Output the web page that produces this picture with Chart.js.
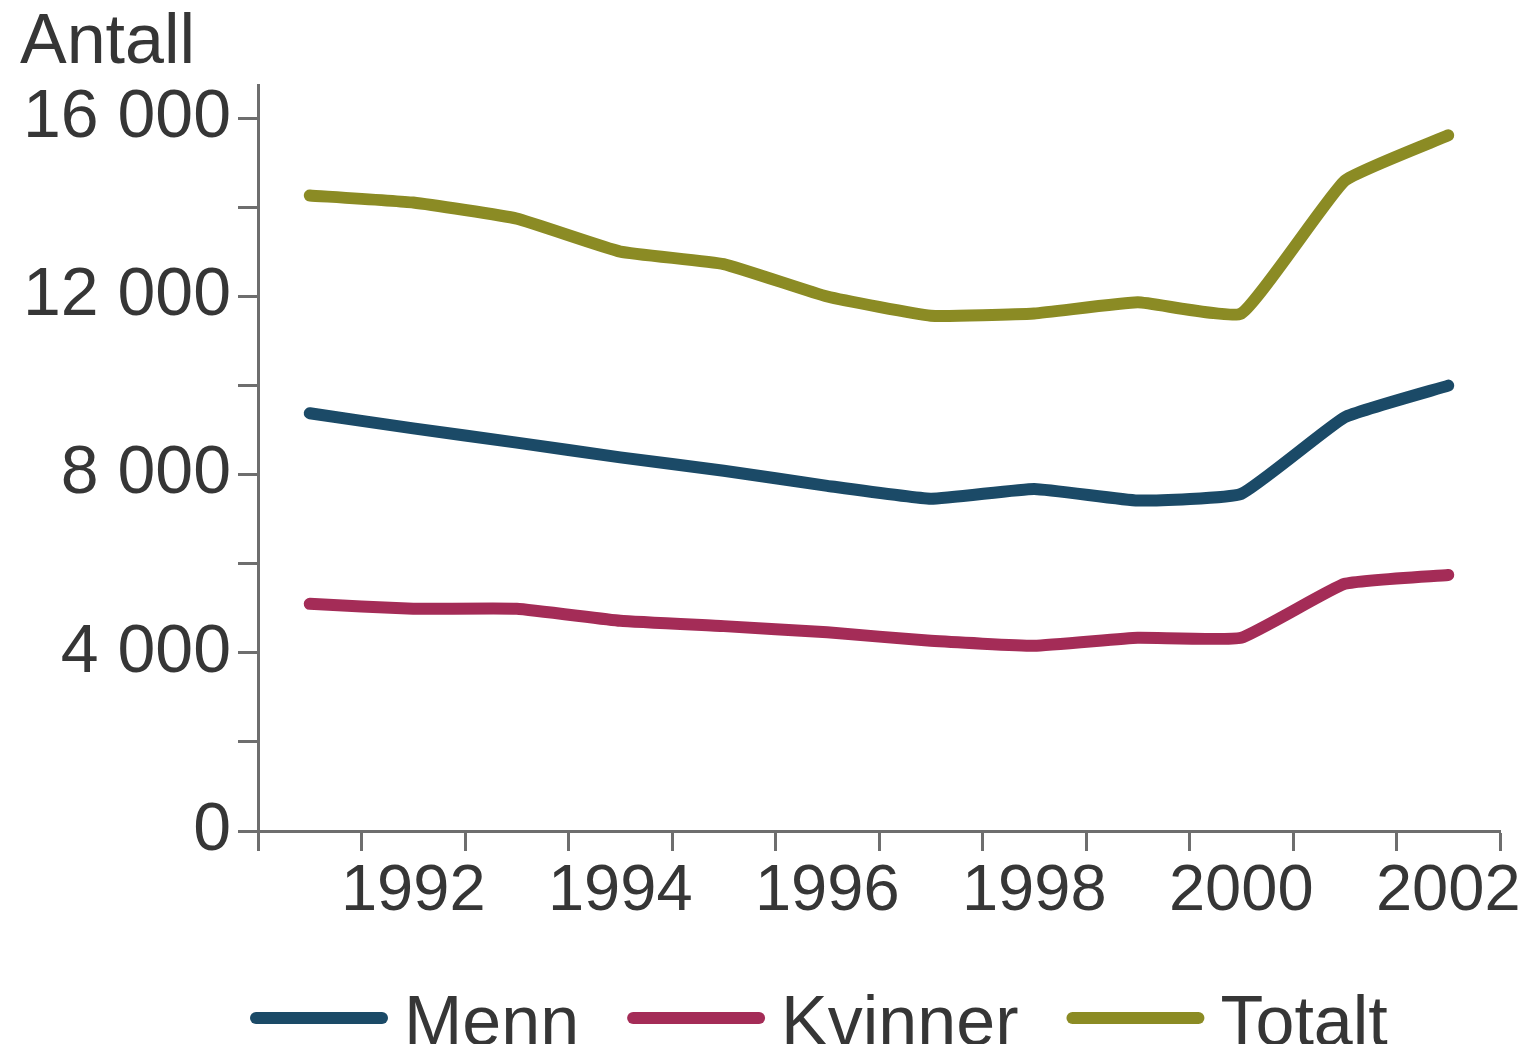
<!DOCTYPE html>
<html lang="no">
<head>
<meta charset="utf-8">
<title>Antall</title>
<script src="https://cdn.jsdelivr.net/npm/chart.js@4.4.1/dist/chart.umd.min.js"></script>
<style>
  html, body { margin: 0; padding: 0; background: #ffffff; overflow: hidden; }
  #wrap { position: relative; width: 1520px; height: 1044px; }
</style>
</head>
<body>
<div id="wrap"><canvas id="chart"></canvas></div>
<script>
// Years on the horizontal axis
const years = ['1991', '1992', '1993', '1994', '1995', '1996', '1997', '1998', '1999', '2000', '2001', '2002'];

// Counts per year
const menn    = [9380, 9040, 8720, 8390, 8090, 7750, 7460, 7680, 7420, 7570, 9290, 10000];
const kvinner = [5100, 4990, 4990, 4720, 4600, 4460, 4270, 4160, 4340, 4340, 5550, 5750];
const totalt  = [14270, 14110, 13750, 13010, 12730, 12000, 11570, 11620, 11870, 11620, 14600, 15620];

// Tick marks on the value axis; only every other one carries a label
const yTicks = [0, 2000, 4000, 6000, 8000, 10000, 12000, 14000, 16000];
const yLabelStep = 4000;

const seriesNames = ['Menn', 'Kvinner', 'Totalt'];
const seriesColors = ['#1b4a67', '#a42c57', '#8b8b24'];

const FONT = "'Liberation Sans', Arial, Helvetica, sans-serif";
const TEXT = '#363636';
const AXIS = '#6e6e6e';

function formatThousands(v) {
  return String(v).replace(/\B(?=(\d{3})+(?!\d))/g, ' ');
}

// Legend row drawn under the axis: a thick stroke followed by the series name
const legendRow = {
  id: 'legendRow',
  afterDraw(chart) {
    const ctx = chart.ctx;
    const y = 1018;
    const strokeLen = 126;
    const gapText = 22;
    const gapItem = 54;
    let x = 256;
    ctx.save();
    ctx.font = '70px ' + FONT;
    ctx.textBaseline = 'alphabetic';
    ctx.textAlign = 'left';
    chart.data.datasets.forEach((ds) => {
      ctx.strokeStyle = ds.borderColor;
      ctx.lineWidth = 12;
      ctx.lineCap = 'round';
      ctx.beginPath();
      ctx.moveTo(x, y);
      ctx.lineTo(x + strokeLen, y);
      ctx.stroke();
      ctx.fillStyle = TEXT;
      const tx = x + strokeLen + gapText;
      ctx.fillText(ds.label, tx, 1045);
      x = tx + ctx.measureText(ds.label).width + gapItem;
    });
    ctx.restore();
  }
};

const datasetFor = (i, data) => ({
  label: seriesNames[i],
  data: data,
  borderColor: seriesColors[i],
  backgroundColor: seriesColors[i],
  borderWidth: 12,
  borderCapStyle: 'round',
  borderJoinStyle: 'round',
  pointRadius: 0,
  pointHoverRadius: 0,
  tension: 0.12,
  fill: false
});

new Chart(document.getElementById('chart'), {
  type: 'line',
  data: {
    labels: years,
    datasets: [datasetFor(0, menn), datasetFor(1, kvinner), datasetFor(2, totalt)]
  },
  options: {
    responsive: true,
    maintainAspectRatio: false,
    animation: false,
    events: [],
    layout: { padding: { left: 20, right: 20, top: 0, bottom: 111 } },
    plugins: {
      legend: { display: false },
      tooltip: { enabled: false },
      title: {
        display: true,
        text: 'Antall',
        align: 'start',
        color: TEXT,
        font: { family: FONT, size: 70, weight: 'normal', lineHeight: 1 },
        padding: { top: 9, bottom: 6 }
      }
    },
    scales: {
      x: {
        type: 'category',
        offset: true,
        grid: {
          display: true,
          offset: true,
          drawOnChartArea: false,
          drawTicks: true,
          tickLength: 20,
          tickWidth: 3,
          tickColor: AXIS
        },
        border: { display: true, color: AXIS, width: 3 },
        ticks: {
          autoSkip: false,
          maxRotation: 0,
          minRotation: 0,
          padding: 2,
          color: TEXT,
          font: { family: FONT, size: 65 },
          callback: function (value, index) {
            const y = Number(years[index]);
            return y % 2 === 0 ? String(y) : '';
          }
        },
        afterFit: function (scale) {
          scale.paddingLeft = 0;
          scale.paddingRight = 0;
        }
      },
      y: {
        min: 0,
        max: 16750,
        grid: {
          display: true,
          drawOnChartArea: false,
          drawTicks: true,
          tickLength: 20,
          tickWidth: 3,
          tickColor: AXIS
        },
        border: { display: true, color: AXIS, width: 3 },
        afterBuildTicks: function (scale) {
          scale.ticks = yTicks.map(v => ({ value: v }));
        },
        ticks: {
          padding: 7,
          color: TEXT,
          font: { family: FONT, size: 68 },
          callback: function (value) {
            return value % yLabelStep === 0 ? formatThousands(value) : '';
          }
        },
        afterFit: function (scale) {
          scale.width = 238;
        }
      }
    }
  },
  plugins: [legendRow]
});
</script>
</body>
</html>
